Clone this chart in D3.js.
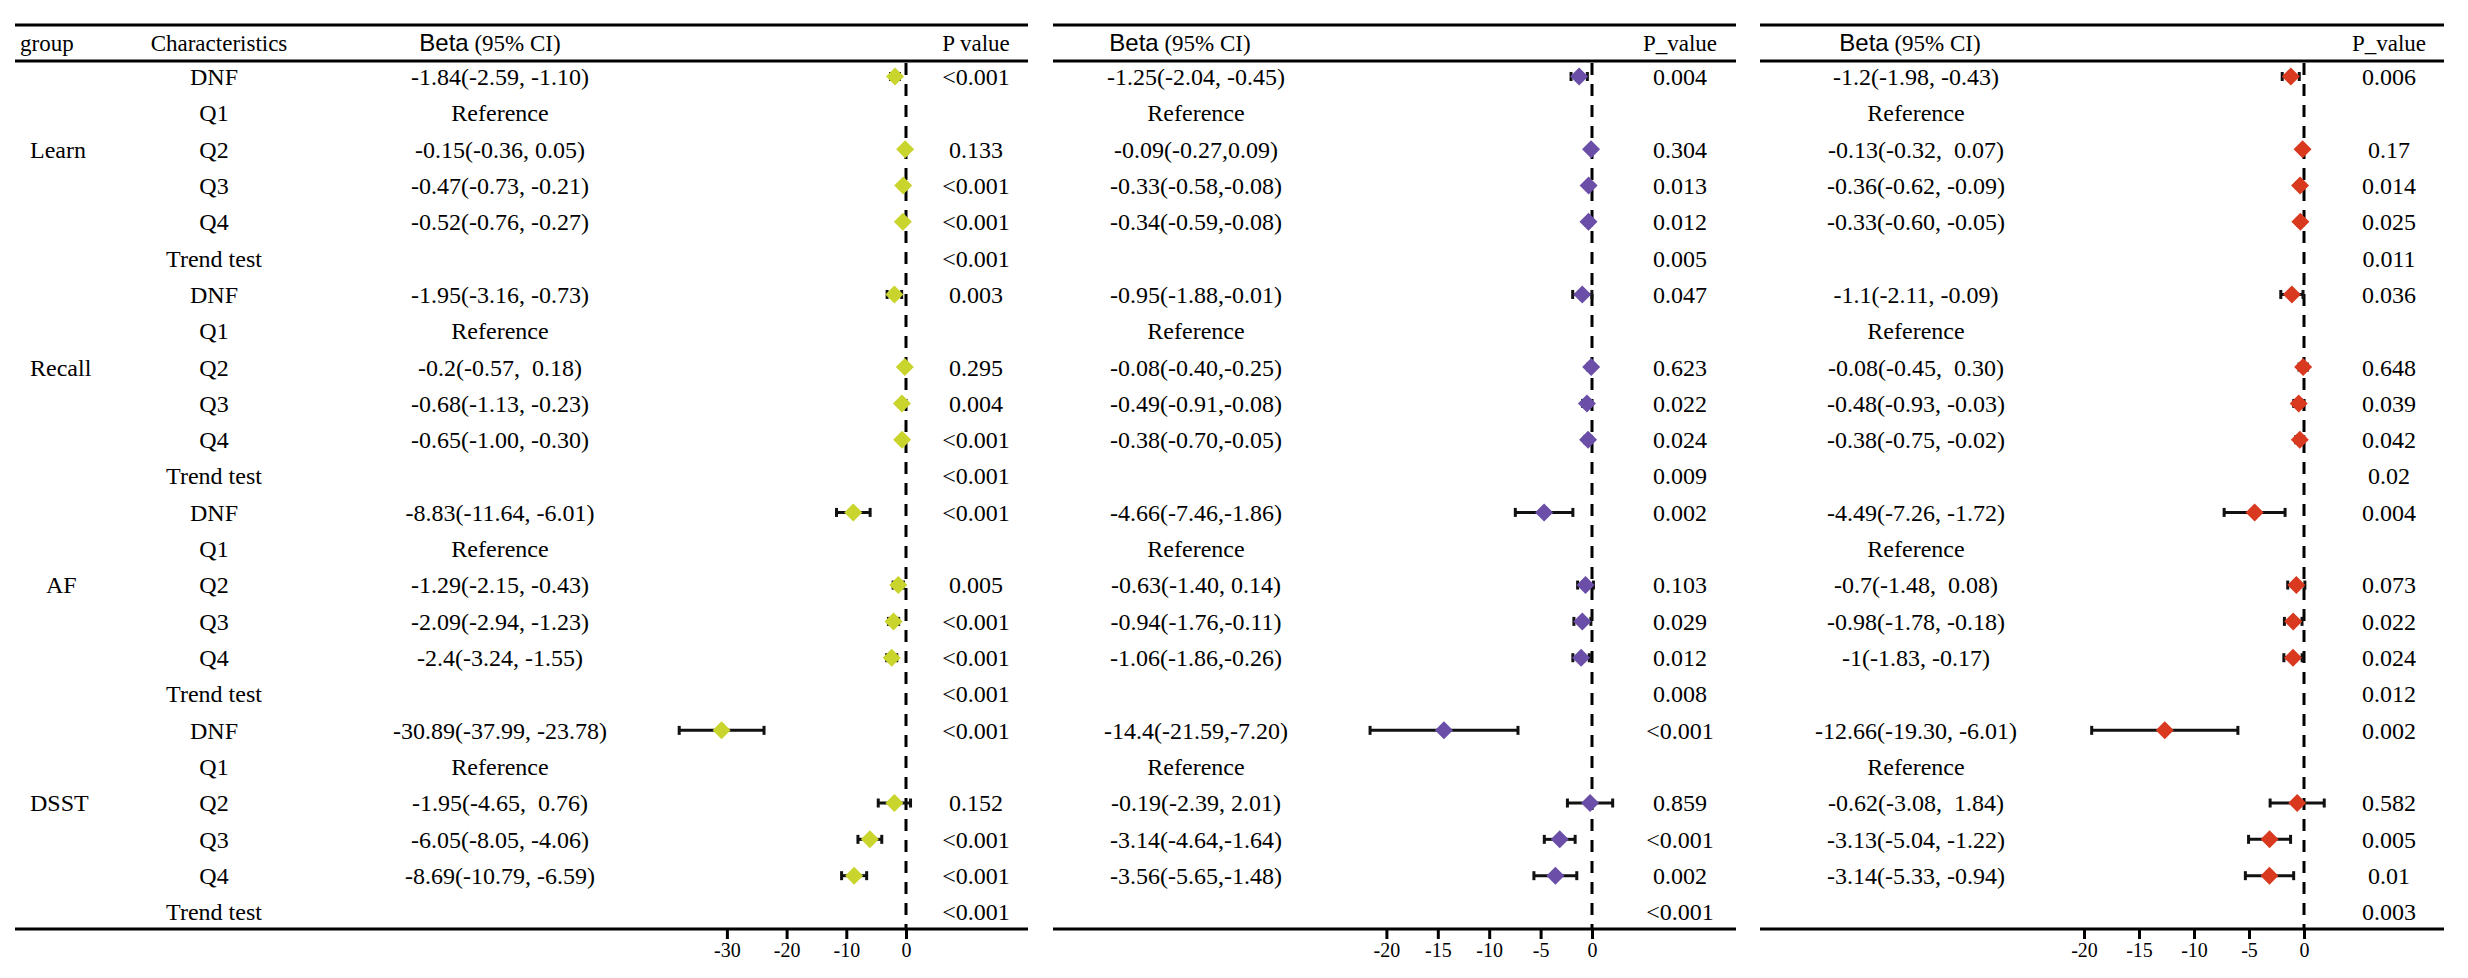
<!DOCTYPE html>
<html>
<head>
    <meta charset="utf-8">
    <script src="https://d3js.org/d3.v7.min.js"></script>
    <style>
        body { margin: 0; background: #fff; }
        text { font-family: "Liberation Serif", "Times New Roman", serif; white-space: pre; }
    </style>
</head>
<body>
<div id="grafik"></div>

<script>
    // row labels
    var groups = ["Learn", "Recall", "AF", "DSST"];
    var characteristics = ["DNF", "Q1", "Q2", "Q3", "Q4", "Trend test"];
    var ticks1 = [-30, -20, -10, 0];
    var ticks2 = [-20, -15, -10, -5, 0];
    var ticks3 = [-20, -15, -10, -5, 0];

    // panel 1
    var est1 = [-1.84, null, -0.15, -0.47, -0.52, null, -1.95, null, -0.2, -0.68, -0.65, null,
                -8.83, null, -1.29, -2.09, -2.4, null, -30.89, null, -1.95, -6.05, -8.69, null];
    var lo1 = [-2.59, null, -0.36, -0.73, -0.76, null, -3.16, null, -0.57, -1.13, -1.00, null,
               -11.64, null, -2.15, -2.94, -3.24, null, -37.99, null, -4.65, -8.05, -10.79, null];
    var hi1 = [-1.10, null, 0.05, -0.21, -0.27, null, -0.73, null, 0.18, -0.23, -0.30, null,
               -6.01, null, -0.43, -1.23, -1.55, null, -23.78, null, 0.76, -4.06, -6.59, null];
    var text1 = ["-1.84(-2.59, -1.10)", "Reference", "-0.15(-0.36, 0.05)", "-0.47(-0.73, -0.21)", "-0.52(-0.76, -0.27)", "",
                 "-1.95(-3.16, -0.73)", "Reference", "-0.2(-0.57,  0.18)", "-0.68(-1.13, -0.23)", "-0.65(-1.00, -0.30)", "",
                 "-8.83(-11.64, -6.01)", "Reference", "-1.29(-2.15, -0.43)", "-2.09(-2.94, -1.23)", "-2.4(-3.24, -1.55)", "",
                 "-30.89(-37.99, -23.78)", "Reference", "-1.95(-4.65,  0.76)", "-6.05(-8.05, -4.06)", "-8.69(-10.79, -6.59)", ""];
    var pv1 = ["<0.001", "", "0.133", "<0.001", "<0.001", "<0.001", "0.003", "", "0.295", "0.004", "<0.001", "<0.001",
               "<0.001", "", "0.005", "<0.001", "<0.001", "<0.001", "<0.001", "", "0.152", "<0.001", "<0.001", "<0.001"];

    // panel 2
    var est2 = [-1.25, null, -0.09, -0.33, -0.34, null, -0.95, null, -0.08, -0.49, -0.38, null,
                -4.66, null, -0.63, -0.94, -1.06, null, -14.4, null, -0.19, -3.14, -3.56, null];
    var lo2 = [-2.04, null, -0.27, -0.58, -0.59, null, -1.88, null, -0.40, -0.91, -0.70, null,
               -7.46, null, -1.40, -1.76, -1.86, null, -21.59, null, -2.39, -4.64, -5.65, null];
    var hi2 = [-0.45, null, 0.09, -0.08, -0.08, null, -0.01, null, -0.25, -0.08, -0.05, null,
               -1.86, null, 0.14, -0.11, -0.26, null, -7.20, null, 2.01, -1.64, -1.48, null];
    var text2 = ["-1.25(-2.04, -0.45)", "Reference", "-0.09(-0.27,0.09)", "-0.33(-0.58,-0.08)", "-0.34(-0.59,-0.08)", "",
                 "-0.95(-1.88,-0.01)", "Reference", "-0.08(-0.40,-0.25)", "-0.49(-0.91,-0.08)", "-0.38(-0.70,-0.05)", "",
                 "-4.66(-7.46,-1.86)", "Reference", "-0.63(-1.40, 0.14)", "-0.94(-1.76,-0.11)", "-1.06(-1.86,-0.26)", "",
                 "-14.4(-21.59,-7.20)", "Reference", "-0.19(-2.39, 2.01)", "-3.14(-4.64,-1.64)", "-3.56(-5.65,-1.48)", ""];
    var pv2 = ["0.004", "", "0.304", "0.013", "0.012", "0.005", "0.047", "", "0.623", "0.022", "0.024", "0.009",
               "0.002", "", "0.103", "0.029", "0.012", "0.008", "<0.001", "", "0.859", "<0.001", "0.002", "<0.001"];

    // panel 3
    var est3 = [-1.2, null, -0.13, -0.36, -0.33, null, -1.1, null, -0.08, -0.48, -0.38, null,
                -4.49, null, -0.7, -0.98, -1, null, -12.66, null, -0.62, -3.13, -3.14, null];
    var lo3 = [-1.98, null, -0.32, -0.62, -0.60, null, -2.11, null, -0.45, -0.93, -0.75, null,
               -7.26, null, -1.48, -1.78, -1.83, null, -19.30, null, -3.08, -5.04, -5.33, null];
    var hi3 = [-0.43, null, 0.07, -0.09, -0.05, null, -0.09, null, 0.30, -0.03, -0.02, null,
               -1.72, null, 0.08, -0.18, -0.17, null, -6.01, null, 1.84, -1.22, -0.94, null];
    var text3 = ["-1.2(-1.98, -0.43)", "Reference", "-0.13(-0.32,  0.07)", "-0.36(-0.62, -0.09)", "-0.33(-0.60, -0.05)", "",
                 "-1.1(-2.11, -0.09)", "Reference", "-0.08(-0.45,  0.30)", "-0.48(-0.93, -0.03)", "-0.38(-0.75, -0.02)", "",
                 "-4.49(-7.26, -1.72)", "Reference", "-0.7(-1.48,  0.08)", "-0.98(-1.78, -0.18)", "-1(-1.83, -0.17)", "",
                 "-12.66(-19.30, -6.01)", "Reference", "-0.62(-3.08,  1.84)", "-3.13(-5.04, -1.22)", "-3.14(-5.33, -0.94)", ""];
    var pv3 = ["0.006", "", "0.17", "0.014", "0.025", "0.011", "0.036", "", "0.648", "0.039", "0.042", "0.02",
               "0.004", "", "0.073", "0.022", "0.024", "0.012", "0.002", "", "0.582", "0.005", "0.01", "0.003"];

    var width = 2468, height = 978;
    var topY = 25, headY = 61, axisY = 929;

    var svg = d3.select("#grafik")
        .append("svg")
        .attr("width", width)
        .attr("height", height)
        .style("display", "block");

    var nRows = groups.length * characteristics.length;
    var yScale = d3.scaleLinear()
        .domain([0, nRows - 1])
        .range([76.5, 912]);

    // left table columns (group / characteristics)
    svg.append("text").attr("x", 20).attr("y", 43).attr("dy", "0.35em")
        .attr("font-size", 23).text("group");
    svg.append("text").attr("x", 219).attr("y", 43).attr("dy", "0.35em")
        .attr("text-anchor", "middle").attr("font-size", 23).text("Characteristics");

    groups.forEach(function(g, gi) {
        svg.append("text")
            .attr("x", g == "AF" ? 46 : 30)
            .attr("y", yScale(gi * characteristics.length + 2))
            .attr("dy", "0.35em")
            .attr("font-size", 24)
            .text(g);
        characteristics.forEach(function(c, ci) {
            svg.append("text")
                .attr("x", 214)
                .attr("y", yScale(gi * characteristics.length + ci))
                .attr("dy", "0.35em")
                .attr("text-anchor", "middle")
                .attr("font-size", 24)
                .text(c);
        });
    });

    var panels = [
        { x0: 15, x1: 1028, betaX: 500, headX: 490, pX: 976, pHead: "P value",
          domain: [-30, 0], range: [726.9, 906], ticks: ticks1, color: "#c9d42c",
          est: est1, lo: lo1, hi: hi1, txt: text1, pv: pv1 },
        { x0: 1053, x1: 1736, betaX: 1196, headX: 1180, pX: 1680, pHead: "P_value",
          domain: [-20, 0], range: [1386.4, 1592], ticks: ticks2, color: "#6a4ea8",
          est: est2, lo: lo2, hi: hi2, txt: text2, pv: pv2 },
        { x0: 1760, x1: 2444, betaX: 1916, headX: 1910, pX: 2389, pHead: "P_value",
          domain: [-20, 0], range: [2084, 2304], ticks: ticks3, color: "#d8391f",
          est: est3, lo: lo3, hi: hi3, txt: text3, pv: pv3 }
    ];

    panels.forEach(function(p) {
        var xScale = d3.scaleLinear().domain(p.domain).range(p.range);
        var g = svg.append("g");

        // table rules
        [topY, headY, axisY].forEach(function(yy) {
            g.append("line")
                .attr("x1", p.x0).attr("x2", p.x1)
                .attr("y1", yy).attr("y2", yy)
                .attr("stroke", "#000").attr("stroke-width", 3);
        });

        // headers
        var h = g.append("text").attr("x", p.headX).attr("y", 43).attr("dy", "0.35em")
            .attr("text-anchor", "middle").attr("font-size", 23);
        h.append("tspan").style("font-family", "'Liberation Sans', Arial, sans-serif").attr("font-size", 24).text("Beta");
        h.append("tspan").text(" (95% CI)");
        g.append("text").attr("x", p.pX).attr("y", 43).attr("dy", "0.35em")
            .attr("text-anchor", "middle").attr("font-size", 23).text(p.pHead);

        // zero reference line
        g.append("line")
            .attr("x1", xScale(0)).attr("x2", xScale(0))
            .attr("y1", headY + 2).attr("y2", axisY)
            .attr("stroke", "#000").attr("stroke-width", 3)
            .attr("stroke-dasharray", "12,9");

        var rows = d3.range(nRows);

        g.selectAll(".beta").data(rows).enter().append("text")
            .attr("x", p.betaX).attr("y", function(i) { return yScale(i); })
            .attr("dy", "0.35em").attr("text-anchor", "middle").attr("font-size", 24)
            .text(function(i) { return p.txt[i]; });

        g.selectAll(".pv").data(rows).enter().append("text")
            .attr("x", p.pX).attr("y", function(i) { return yScale(i); })
            .attr("dy", "0.35em").attr("text-anchor", "middle").attr("font-size", 24)
            .text(function(i) { return p.pv[i]; });

        var pts = rows.filter(function(i) { return p.est[i] != null; });

        // CI bars with caps
        var ci = g.selectAll(".ci").data(pts).enter().append("g");
        ci.append("line")
            .attr("x1", function(i) { return xScale(p.lo[i]); })
            .attr("x2", function(i) { return xScale(p.hi[i]); })
            .attr("y1", function(i) { return yScale(i); })
            .attr("y2", function(i) { return yScale(i); })
            .attr("stroke", "#111").attr("stroke-width", 3);
        ["lo", "hi"].forEach(function(k) {
            ci.append("line")
                .attr("x1", function(i) { return xScale(p[k][i]); })
                .attr("x2", function(i) { return xScale(p[k][i]); })
                .attr("y1", function(i) { return yScale(i) - 4.5; })
                .attr("y2", function(i) { return yScale(i) + 4.5; })
                .attr("stroke", "#111").attr("stroke-width", 3);
        });

        // diamonds
        g.selectAll(".pt").data(pts).enter().append("path")
            .attr("d", "M0,-9L9,0L0,9L-9,0Z")
            .attr("transform", function(i) { return "translate(" + xScale(p.est[i]) + "," + yScale(i) + ")"; })
            .attr("fill", p.color);

        // x axis
        var xAxis = d3.axisBottom(xScale).tickValues(p.ticks).tickSize(10).tickPadding(4)
            .tickFormat(function(d) { return String(d); });
        var ax = g.append("g")
            .attr("transform", "translate(0," + axisY + ")")
            .call(xAxis);
        ax.select(".domain").remove();
        ax.selectAll(".tick line").attr("stroke", "#000").attr("stroke-width", 3);
        ax.selectAll(".tick text")
            .style("font-family", "'Liberation Serif', serif")
            .attr("font-size", 20).attr("fill", "#000");
    });
</script>
</body>
</html>
